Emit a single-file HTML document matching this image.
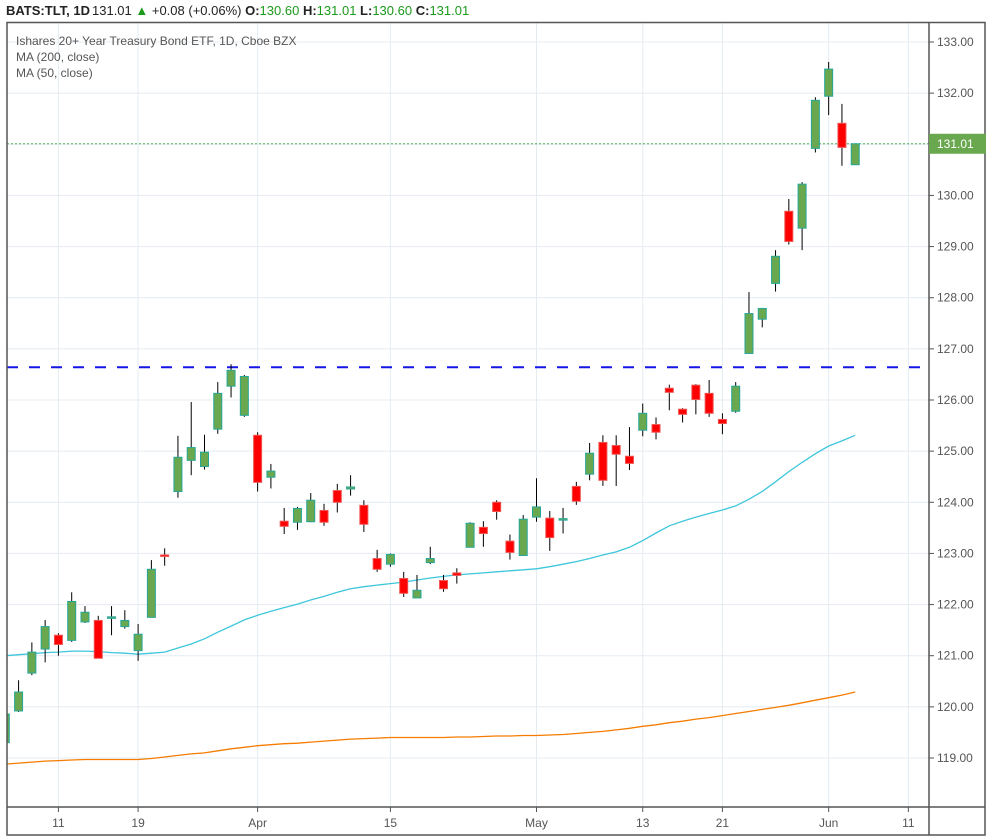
<!DOCTYPE html>
<html><head><meta charset="utf-8"><style>
body{margin:0;background:#fff;font-family:"Liberation Sans",sans-serif;}
#wrap{position:relative;width:987px;height:838px;overflow:hidden;}
svg text{font-family:"Liberation Sans",sans-serif;}
</style></head><body>
<div id="wrap">
<svg id="chart" width="987" height="838">
  <text x="6" y="15" font-size="13" font-weight="bold" fill="#222">BATS:TLT, 1D</text>
  <text x="92" y="15" font-size="13" fill="#222">131.01 <tspan fill="#1a9a1a">▲</tspan> +0.08 (+0.06%) <tspan font-weight="bold">O:</tspan><tspan fill="#1a9a1a">130.60</tspan> <tspan font-weight="bold">H:</tspan><tspan fill="#1a9a1a">131.01</tspan> <tspan font-weight="bold">L:</tspan><tspan fill="#1a9a1a">130.60</tspan> <tspan font-weight="bold">C:</tspan><tspan fill="#1a9a1a">131.01</tspan></text>
  <g id="grid"></g>
  <g id="plot" clip-path="url(#clip)"></g>
  <defs><clipPath id="clip"><rect x="7" y="23" width="922" height="784"/></clipPath></defs>
  <rect x="7" y="22.5" width="978" height="812.5" fill="none" stroke="#555" stroke-width="1.5"/>
  <line x1="929" y1="23" x2="929" y2="835" stroke="#555" stroke-width="1.5"/>
  <line x1="7" y1="807" x2="985" y2="807" stroke="#555" stroke-width="1.5"/>
  <g id="axes"></g>
  <text x="16" y="45" font-size="12" fill="#555">Ishares 20+ Year Treasury Bond ETF, 1D, Cboe BZX</text>
  <text x="16" y="61" font-size="12" fill="#555">MA (200, close)</text>
  <text x="16" y="77" font-size="12" fill="#555">MA (50, close)</text>
</svg>
</div>
<script>
const opens=[119.30,119.92,120.66,121.13,121.40,121.30,121.66,121.69,121.74,121.57,121.10,121.75,122.97,124.21,124.82,124.70,125.43,126.27,125.70,125.31,124.49,123.63,123.61,123.62,123.84,124.23,124.26,123.94,122.90,122.79,122.51,122.13,122.82,122.47,122.62,123.12,123.51,124.00,123.24,122.96,123.71,123.69,123.66,124.31,124.55,125.17,125.11,124.90,125.41,125.52,126.23,125.82,126.29,126.13,125.62,125.78,126.91,127.58,128.28,129.69,129.36,130.92,131.94,131.41,130.60];
const highs=[119.86,120.52,121.26,121.70,121.44,122.24,121.97,121.78,121.97,121.89,121.62,122.87,123.10,125.30,125.96,125.32,126.35,126.70,126.49,125.37,124.75,123.89,123.91,124.18,123.97,124.36,124.53,124.04,123.07,123.00,122.64,122.58,123.13,122.58,122.71,123.61,123.63,124.04,123.37,123.75,124.47,123.83,123.89,124.40,125.16,125.31,125.31,125.47,125.93,125.66,126.30,125.84,126.31,126.39,125.74,126.35,128.11,127.79,128.93,129.93,130.26,131.92,132.61,131.79,131.01];
const lows=[119.20,119.90,120.62,120.87,121.00,121.27,121.64,120.95,121.40,121.53,120.90,121.75,122.76,124.09,124.53,124.64,125.34,126.05,125.67,124.21,124.27,123.38,123.46,123.61,123.54,123.80,124.13,123.42,122.64,122.74,122.15,122.13,122.79,122.25,122.41,123.12,123.13,123.66,122.88,122.96,123.62,123.05,123.39,123.95,124.43,124.32,124.32,124.63,125.29,125.23,125.80,125.56,125.72,125.67,125.33,125.75,126.91,127.42,128.12,129.04,128.93,130.84,131.57,130.58,130.60];
const closes=[119.86,120.29,121.07,121.57,121.22,122.06,121.85,120.95,121.76,121.69,121.42,122.69,122.95,124.88,125.07,124.98,126.13,126.58,126.46,124.39,124.61,123.53,123.88,124.04,123.61,124.00,124.30,123.57,122.69,122.98,122.22,122.28,122.90,122.31,122.57,123.59,123.39,123.82,123.02,123.67,123.91,123.31,123.68,124.02,124.96,124.43,124.94,124.76,125.74,125.37,126.15,125.72,126.01,125.74,125.54,126.27,127.69,127.79,128.81,129.10,130.22,131.86,132.47,130.94,131.01];
const ma50=[121.00,121.02,121.04,121.06,121.07,121.09,121.09,121.08,121.06,121.05,121.03,121.05,121.07,121.15,121.23,121.33,121.46,121.58,121.70,121.79,121.87,121.94,122.01,122.09,122.16,122.24,122.31,122.35,122.38,122.41,122.44,122.48,122.52,122.55,122.58,122.60,122.62,122.64,122.66,122.68,122.70,122.74,122.79,122.84,122.90,122.97,123.03,123.12,123.25,123.40,123.54,123.63,123.71,123.78,123.85,123.93,124.06,124.21,124.40,124.60,124.78,124.95,125.10,125.20,125.31];
const ma200=[118.88,118.90,118.92,118.94,118.95,118.96,118.97,118.97,118.97,118.97,118.97,118.99,119.02,119.05,119.08,119.10,119.14,119.18,119.21,119.24,119.26,119.28,119.29,119.31,119.33,119.35,119.37,119.38,119.39,119.40,119.40,119.40,119.40,119.40,119.41,119.41,119.42,119.43,119.43,119.44,119.44,119.45,119.46,119.48,119.50,119.52,119.55,119.58,119.62,119.65,119.69,119.72,119.76,119.79,119.83,119.87,119.91,119.95,119.99,120.03,120.08,120.13,120.18,120.23,120.29];
const yTicks=[119,120,121,122,123,124,125,126,127,128,129,130,131,132,133];
const xTickLabels=["11","19","Apr","15","May","13","21","Jun","11"];
const xTickIdx=[4,10,19,29,40,48,54,62,68];
const resistance=126.64;
const lastPrice=131.01;

const NS="http://www.w3.org/2000/svg";
function X(i){return 5.3+13.28*i;}
function Y(p){return 42+(133-p)*51.143;}
function mk(tag,attrs,parent){const e=document.createElementNS(NS,tag);for(const k in attrs)e.setAttribute(k,attrs[k]);parent.appendChild(e);return e;}
const grid=document.getElementById('grid'),plot=document.getElementById('plot'),axes=document.getElementById('axes');

yTicks.forEach(v=>{
  const y=Y(v);
  const l=mk('line',{x1:7,x2:929,y1:y,y2:y,stroke:'#e4ecf2','stroke-width':1},grid);
  
  
  mk('line',{x1:929,x2:934,y1:y,y2:y,stroke:'#555'},axes);
  const t=mk('text',{x:937,y:y+4,'font-size':12,fill:'#555'},axes);
  t.textContent=v.toFixed(2);
  
  
});
xTickIdx.forEach((ix,k)=>{
  const x=X(ix);
  const l=mk('line',{x1:x,x2:x,y1:23,y2:807,stroke:'#e4ecf2','stroke-width':1},grid);
  
  
  mk('line',{x1:x,x2:x,y1:807,y2:812,stroke:'#555'},axes);
  const t=mk('text',{x:x,y:827,'font-size':12,fill:'#555','text-anchor':'middle'},axes);
  t.textContent=xTickLabels[k];
  
  
});

function line(arr,color,name){
  const pts=arr.map((v,i)=>X(i).toFixed(1)+','+Y(v).toFixed(1)).join(' ');
  const p=mk('polyline',{points:pts,fill:'none',stroke:color,'stroke-width':1.3},plot);
  
  
}
line(ma200,'#f57c00','ma200-line');
line(ma50,'#3ec6dc','ma50-line');

const rl=mk('line',{x1:7,x2:929,y1:Y(resistance),y2:Y(resistance),stroke:'#1515e6','stroke-width':2,'stroke-dasharray':'11 11'},plot);


const pl=mk('line',{x1:7,x2:929,y1:Y(lastPrice),y2:Y(lastPrice),stroke:'#4caf50','stroke-width':1,'stroke-dasharray':'2 2'},plot);



opens.forEach((o,i)=>{
  const c=closes[i],h=highs[i],lo=lows[i],x=X(i);
  const up=c>=o;
  const w=mk('line',{x1:x,x2:x,y1:Y(h),y2:Y(lo),stroke:'#000','stroke-width':1},plot);
  
  
  const top=Y(Math.max(o,c)),bot=Y(Math.min(o,c));
  const b=mk('rect',{x:x-4,y:top,width:8,height:Math.max(bot-top,1.5),fill:up?'#6aa84f':'#ff0000',stroke:up?'#26a69a':'#ef5350','stroke-width':1},plot);
  
  
});

const ly=Y(lastPrice);
const lb=mk('rect',{x:929,y:ly-10,width:57,height:20,fill:'#6aa84f'},axes);


const lt=mk('text',{x:937,y:ly+4,'font-size':12,fill:'#fff'},axes);
lt.textContent=lastPrice.toFixed(2);


</script>
</body></html>
